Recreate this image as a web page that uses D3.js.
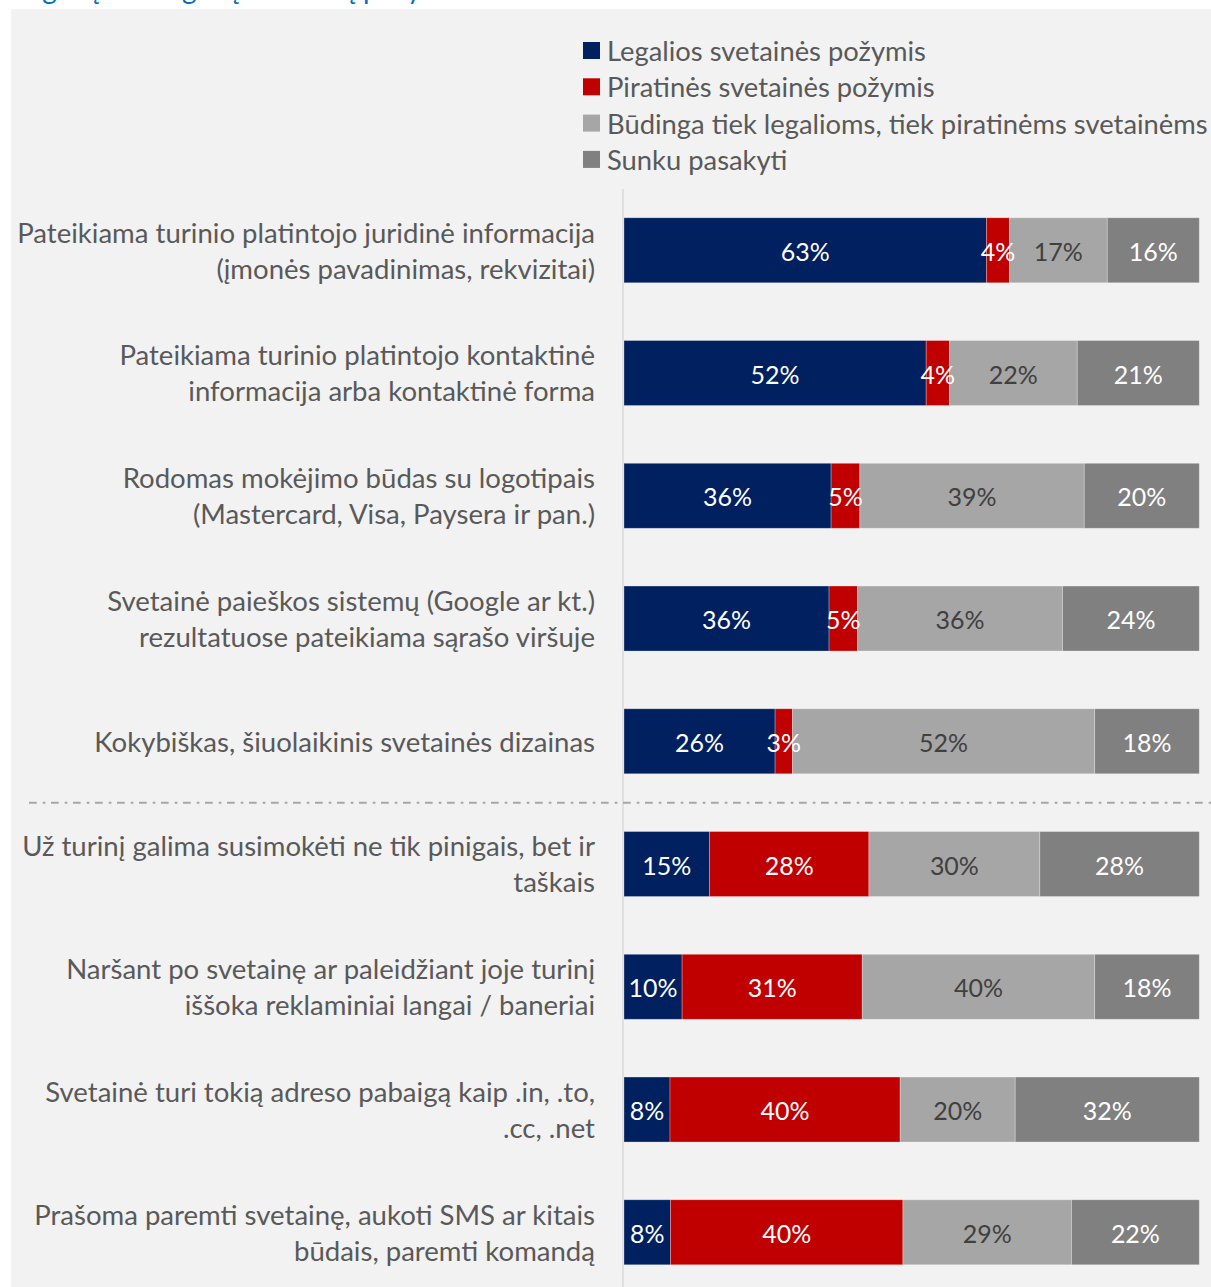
<!DOCTYPE html>
<html><head><meta charset="utf-8">
<script src="https://cdn.jsdelivr.net/npm/d3@7"></script>
<style>
html,body{margin:0;padding:0;background:#fff;}
svg{display:block;}
text{font-family:Lato,"Open Sans",sans-serif;}
</style></head>
<body>
<div id="chart"></div>
<script>
const categories = [
  ["Pateikiama turinio platintojo juridinė informacija", "(įmonės pavadinimas, rekvizitai)"],
  ["Pateikiama turinio platintojo kontaktinė", "informacija arba kontaktinė forma"],
  ["Rodomas mokėjimo būdas su logotipais", "(Mastercard, Visa, Paysera ir pan.)"],
  ["Svetainė paieškos sistemų (Google ar kt.)", "rezultatuose pateikiama sąrašo viršuje"],
  ["Kokybiškas, šiuolaikinis svetainės dizainas"],
  ["Už turinį galima susimokėti ne tik pinigais, bet ir", "taškais"],
  ["Naršant po svetainę ar paleidžiant joje turinį", "iššoka reklaminiai langai / baneriai"],
  ["Svetainė turi tokią adreso pabaigą kaip .in, .to,", ".cc, .net"],
  ["Prašoma paremti svetainę, aukoti SMS ar kitais", "būdais, paremti komandą"]
];
const seriesNames = [
  "Legalios svetainės požymis",
  "Piratinės svetainės požymis",
  "Būdinga tiek legalioms, tiek piratinėms svetainėms",
  "Sunku pasakyti"
];
const legalValues  = [63, 52, 36, 36, 26, 15, 10, 8, 8];
const pirateValues = [4, 4, 5, 5, 3, 28, 31, 40, 40];
const bothValues   = [17, 22, 39, 36, 52, 30, 40, 20, 29];
const unsureValues = [16, 21, 20, 24, 18, 28, 18, 32, 22];
const titleText = "Legalių ir nelegalių svetainių požymiai";
const separatorAfter = 4; // dashed divider after the 5th category

const colors = ["#002060", "#C00000", "#A6A6A6", "#808080"];
const labelColors = ["#ffffff", "#ffffff", "#404040", "#ffffff"];

const W = 1211, H = 1287;
const svg = d3.select("#chart").append("svg").attr("width", W).attr("height", H);

function fit(str, target, base) {
  const t = svg.append("text").attr("font-size", base).text(str);
  const w = t.node().getComputedTextLength();
  t.remove();
  return base * target / w;
}
const catFont = fit(categories[0][0], 578, 24);
const legFont = fit(seriesNames[2], 601, 24);
const valFont = fit("22%", 49, 24);

// title, clipped by the top edge (only descenders visible, as in the reference)
svg.append("text").attr("x", 14).attr("y", -1).attr("font-size", 28)
  .attr("fill", "#0070C0").text(titleText);

// panel
svg.append("rect").attr("x", 11).attr("y", 9).attr("width", W - 11).attr("height", H - 9)
  .attr("fill", "#F2F2F2");

const rows = categories.map((c, i) => {
  const vals = [legalValues[i], pirateValues[i], bothValues[i], unsureValues[i]];
  const total = d3.sum(vals);
  let acc = 0;
  const segs = vals.map((v, k) => { const s = {k, v, x0: acc / total, x1: (acc + v) / total}; acc += v; return s; });
  return {i, lines: c, segs};
});

const x = d3.scaleLinear().domain([0, 1]).range([624, 1199.3]);
const y = d3.scaleBand().domain(d3.range(categories.length)).range([188.9, 1293.65])
  .paddingInner(0.4705).paddingOuter(0.23525);

svg.append("line").attr("x1", 623).attr("x2", 623).attr("y1", 189).attr("y2", H)
  .attr("stroke", "#D9D9D9").attr("stroke-width", 1.5);

const sepY = (y(separatorAfter) + y.bandwidth() + y(separatorAfter + 1)) / 2;
svg.append("line").attr("x1", 29).attr("x2", W).attr("y1", sepY).attr("y2", sepY)
  .attr("stroke", "#A6A6A6").attr("stroke-width", 2)
  .attr("stroke-dasharray", "7.7 6 2.7 5.6");

const g = svg.append("g");
rows.forEach(r => {
  const rg = g.append("g");
  rg.selectAll("rect").data(r.segs).join("rect")
    .attr("x", d => x(d.x0)).attr("width", d => x(d.x1) - x(d.x0))
    .attr("y", y(r.i)).attr("height", y.bandwidth())
    .attr("fill", d => colors[d.k])
    .attr("stroke", "#ffffff").attr("stroke-opacity", 0.35).attr("stroke-width", 0.8);
  rg.selectAll("text").data(r.segs).join("text")
    .attr("x", d => (x(d.x0) + x(d.x1)) / 2)
    .attr("y", y(r.i) + y.bandwidth() / 2)
    .attr("dy", "0.42em")
    .attr("text-anchor", "middle")
    .attr("font-size", valFont)
    .attr("fill", d => labelColors[d.k])
    .text(d => d.v + "%");
  const cy = y(r.i) + y.bandwidth() / 2;
  const n = r.lines.length;
  svg.append("g").selectAll("text").data(r.lines).join("text")
    .attr("x", 595).attr("text-anchor", "end")
    .attr("y", (d, j) => cy + (j - (n - 1) / 2) * 36)
    .attr("dy", "0.38em")
    .attr("font-size", catFont)
    .attr("fill", "#595959")
    .text(d => d);
});

const lg = svg.append("g");
seriesNames.forEach((s, k) => {
  const ly = 42 + k * 36.3;
  lg.append("rect").attr("x", 583).attr("y", ly).attr("width", 17).attr("height", 17).attr("fill", colors[k]);
  lg.append("text").attr("x", 607).attr("y", ly + 8.5).attr("dy", "0.38em")
    .attr("font-size", legFont).attr("fill", "#595959").text(s);
});
</script>
</body></html>
